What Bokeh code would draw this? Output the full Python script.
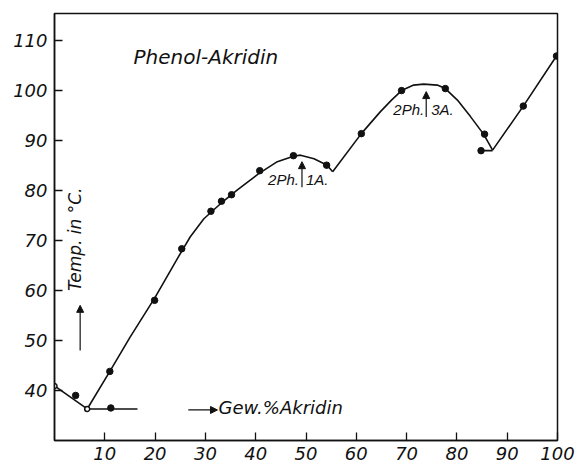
from bokeh.plotting import figure
from bokeh.models import Range1d, FixedTicker, Arrow, NormalHead, Label
from bokeh.embed import file_html
from bokeh.resources import INLINE

# measured points (Gew.% Akridin, Temp °C)
pts_x = [4.2, 11.2, 11.0, 19.9, 25.3, 31.1, 33.2, 35.2, 40.8, 47.5, 54.1, 61.0, 69.0, 77.7, 85.5, 84.8, 93.2, 99.8]
pts_y = [39.0, 36.5, 43.8, 58.0, 68.3, 75.8, 77.8, 79.1, 83.9, 86.9, 85.0, 91.3, 99.9, 100.3, 91.2, 87.9, 96.8, 106.8]
open_x = [0.0, 6.5]
open_y = [40.9, 36.3]

# liquidus curve branches
b1_x = [0.0, 6.5]
b1_y = [40.9, 36.3]
b2_x = [6.5, 11.0, 15.0, 20.0, 24.4, 27.0, 29.7, 33.0, 36.3, 40.6, 44.3, 47.5, 48.9, 51.6, 54.2, 55.3]
b2_y = [36.3, 43.8, 50.6, 58.6, 66.3, 70.7, 74.3, 77.3, 80.0, 83.3, 85.7, 86.8, 87.0, 86.3, 85.0, 83.7]
b3_x = [55.3, 61.0, 64.8, 67.0, 69.0, 71.4, 73.4, 76.1, 77.7, 80.1, 82.7, 85.3, 87.1]
b3_y = [83.7, 91.3, 95.7, 98.0, 99.9, 101.0, 101.2, 101.0, 100.3, 98.0, 94.7, 91.2, 88.0]
b4_x = [87.1, 93.2, 99.8]
b4_y = [88.0, 96.8, 106.8]
eut1_x = [6.5, 16.5]
eut1_y = [36.3, 36.3]
eut2_x = [84.8, 87.1]
eut2_y = [87.9, 87.9]

x_ticks = [10, 20, 30, 40, 50, 60, 70, 80, 90, 100]
y_ticks = [40, 50, 60, 70, 80, 90, 100, 110]

INK = "#111111"
FONT = "DejaVu Sans"
NARROW = "Liberation Sans"

p = figure(width=578, height=464, output_backend="svg", toolbar_location=None,
           x_range=Range1d(0, 100), y_range=Range1d(30, 115.3),
           min_border_left=54, min_border_right=21, min_border_top=13, min_border_bottom=24)
p.background_fill_color = "white"
p.border_fill_color = "white"
p.outline_line_color = INK
p.outline_line_width = 1.5
p.xgrid.visible = False
p.ygrid.visible = False

for ax, ticks in ((p.xaxis[0], x_ticks), (p.yaxis[0], y_ticks)):
    ax.ticker = FixedTicker(ticks=ticks)
    ax.major_tick_in = 8
    ax.major_tick_out = 0
    ax.minor_tick_line_color = None
    ax.axis_line_color = INK
    ax.axis_line_width = 1.5
    ax.major_tick_line_color = INK
    ax.major_tick_line_width = 1.3
    ax.major_label_text_font = FONT
    ax.major_label_text_font_style = "italic"
    ax.major_label_text_font_size = "18px"
    ax.major_label_text_color = INK
p.xaxis.major_label_standoff = 6
p.yaxis.major_label_standoff = 7

lw = 1.6
for xs, ys in ((b1_x, b1_y), (b2_x, b2_y), (b3_x, b3_y), (b4_x, b4_y), (eut1_x, eut1_y), (eut2_x, eut2_y)):
    p.line(xs, ys, line_color=INK, line_width=lw)

p.scatter(pts_x, pts_y, size=6.5, fill_color=INK, line_color=INK)
p.scatter(open_x, open_y, size=5, fill_color="white", line_color=INK, line_width=1.5)

def lab(x, y, t, size, align="left", base="middle", angle=0.0, font=FONT):
    p.add_layout(Label(x=x, y=y, text=t, text_font=font, text_font_style="italic",
                       text_font_size=size, text_color=INK, text_align=align,
                       text_baseline=base, angle=angle))

lab(15.7, 106.6, "Phenol-Akridin", "20px")
lab(32.6, 36.6, "Gew.%Akridin", "18px")
lab(4.0, 70.2, "Temp. in °C.", "17px", align="center", angle=1.5708)
lab(48.6, 82.1, "2Ph.", "15px", align="right", font=NARROW)
lab(50.0, 82.1, "1A.", "15px", font=NARROW)
lab(73.5, 96.2, "2Ph.", "15px", align="right", font=NARROW)
lab(74.9, 96.2, "3A.", "15px", font=NARROW)

def arrow(x0, y0, x1, y1):
    p.add_layout(Arrow(end=NormalHead(size=7, fill_color=INK, line_color=INK),
                       x_start=x0, y_start=y0, x_end=x1, y_end=y1,
                       line_color=INK, line_width=1.2))

arrow(49.2, 80.6, 49.2, 85.7)
arrow(73.9, 94.6, 73.9, 99.7)
arrow(5.1, 48.0, 5.1, 57.0)
arrow(26.6, 36.1, 32.4, 36.1)

open("out.html", "w").write(file_html(p, INLINE))
